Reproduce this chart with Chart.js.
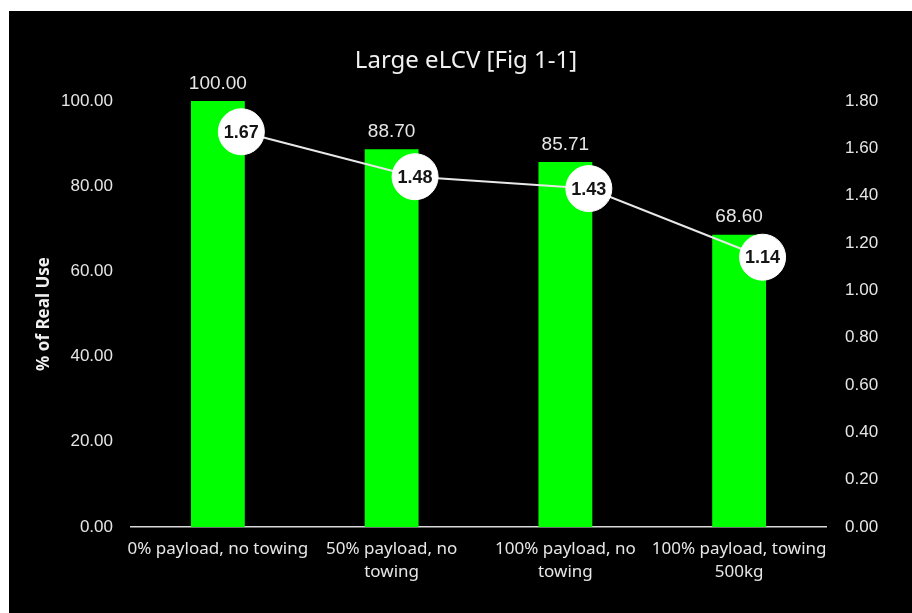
<!DOCTYPE html>
<html>
<head>
<meta charset="utf-8">
<script src="https://cdn.jsdelivr.net/npm/chart.js@4/dist/chart.umd.min.js"></script>
<style>
  html, body { margin: 0; padding: 0; background: #ffffff; }
  #wrap { position: absolute; left: 9px; top: 11px; width: 903px; height: 602px; background: #000000; }
</style>
</head>
<body>
<div id="wrap"><canvas id="chart" width="903" height="602"></canvas></div>
<script>
    // Danh mục và số liệu
    const categories = [
        ['0% payload, no towing'],
        ['50% payload, no', 'towing'],
        ['100% payload, no', 'towing'],
        ['100% payload, towing', '500kg']
    ];
    const realUse = [100.00, 88.70, 85.71, 68.60];
    const ratio = [1.67, 1.48, 1.43, 1.14];

    const textColor = '#e6e6e6';
    const sansFont = '"Noto Sans", "DejaVu Sans", sans-serif';
    const numFont = '"Liberation Sans", Arial, sans-serif';

    // Vẽ nhãn giá trị và tiêu đề
    const labelPlugin = {
        id: 'valueLabels',
        afterDatasetsDraw(chart) {
            const ctx = chart.ctx;
            ctx.save();

            // Nhãn trên cột
            const barMeta = chart.getDatasetMeta(1);
            ctx.fillStyle = textColor;
            ctx.font = '19px ' + numFont;
            ctx.textAlign = 'center';
            ctx.textBaseline = 'bottom';
            barMeta.data.forEach((bar, i) => {
                ctx.fillText(realUse[i].toFixed(2), bar.x, bar.y - 8);
            });

            // Nhãn trong các điểm tròn
            const lineMeta = chart.getDatasetMeta(0);
            ctx.fillStyle = '#151515';
            ctx.font = 'bold 18px ' + numFont;
            ctx.textBaseline = 'middle';
            lineMeta.data.forEach((pt, i) => {
                ctx.fillText(ratio[i].toFixed(2), pt.x, pt.y + 1);
            });

            // Tiêu đề
            ctx.fillStyle = '#f0f0f0';
            ctx.font = '24px ' + sansFont;
            ctx.textBaseline = 'alphabetic';
            ctx.fillText('Large eLCV [Fig 1-1]', 457, 57);
            ctx.restore();
        }
    };

    new Chart(document.getElementById('chart'), {
        data: {
            labels: categories,
            datasets: [
                {
                    type: 'line',
                    label: 'Ratio',
                    data: ratio.map((v, i) => ({ x: i, y: v })),
                    xAxisID: 'x2',
                    yAxisID: 'y1',
                    borderColor: '#e8e8e8',
                    borderWidth: 2,
                    pointRadius: 23,
                    pointBackgroundColor: '#ffffff',
                    pointBorderColor: '#ffffff',
                    pointBorderWidth: 1,
                    tension: 0,
                    order: 0
                },
                {
                    type: 'bar',
                    label: '% of Real Use',
                    data: realUse,
                    xAxisID: 'x',
                    yAxisID: 'y',
                    backgroundColor: '#00ff00',
                    grouped: false,
                    categoryPercentage: 1,
                    barPercentage: 0.31,
                    order: 1
                }
            ]
        },
        options: {
            responsive: false,
            animation: false,
            layout: { padding: { top: 90, left: 0, right: 0, bottom: 0 } },
            plugins: {
                legend: { display: false },
                tooltip: { enabled: false }
            },
            scales: {
                x: {
                    grid: { display: false, drawTicks: false },
                    border: { display: true, color: '#d9d9d9', width: 1.5 },
                    ticks: {
                        color: textColor,
                        padding: 11,
                        maxRotation: 0,
                        autoSkip: false,
                        font: { family: sansFont, size: 17, lineHeight: 1.35 }
                    },
                    afterFit: s => { s.height = 86; }
                },
                // trục phụ cho đường, lệch nhẹ sang phải so với cột
                x2: {
                    type: 'linear',
                    display: false,
                    min: -0.635,
                    max: 3.365
                },
                y: {
                    position: 'left',
                    min: 0,
                    max: 100,
                    grid: { display: false, drawTicks: false },
                    border: { display: false },
                    ticks: {
                        stepSize: 20,
                        color: textColor,
                        padding: 18,
                        font: { family: numFont, size: 17 },
                        callback: v => v.toFixed(2)
                    },
                    title: {
                        display: true,
                        text: '% of Real Use',
                        color: '#f0f0f0',
                        padding: { top: 25, bottom: 0 },
                        font: { family: sansFont, size: 17, weight: 'bold' }
                    },
                    afterFit: s => { s.width = 122; }
                },
                y1: {
                    position: 'right',
                    min: 0,
                    max: 1.8,
                    grid: { display: false, drawTicks: false },
                    border: { display: false },
                    ticks: {
                        stepSize: 0.2,
                        color: textColor,
                        padding: 19,
                        font: { family: numFont, size: 17 },
                        callback: v => v.toFixed(2)
                    },
                    afterFit: s => { s.width = 86; }
                }
            }
        },
        plugins: [labelPlugin]
    });
</script>
</body>
</html>
